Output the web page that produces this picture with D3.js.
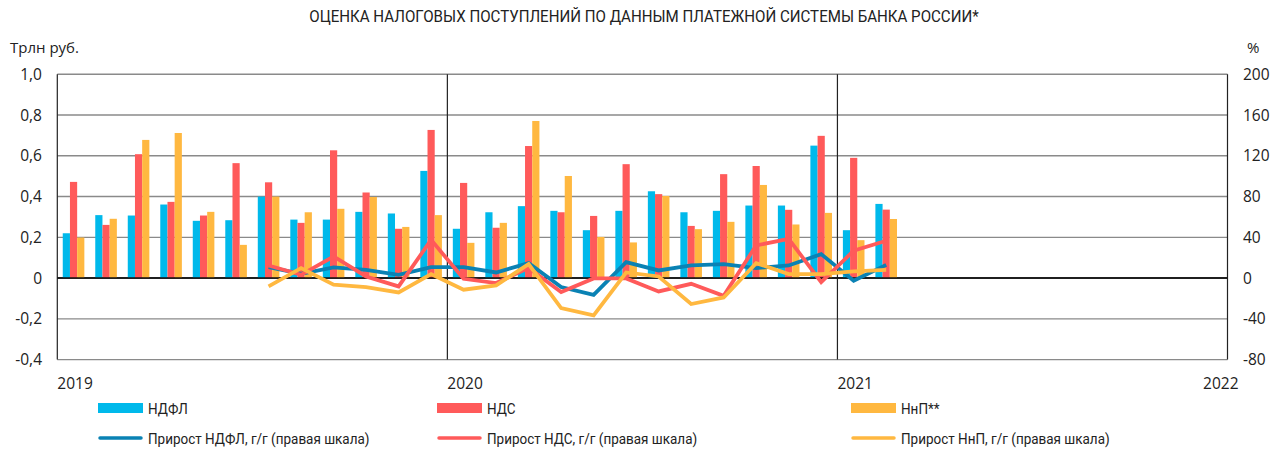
<!DOCTYPE html>
<html><head><meta charset="utf-8">
<script src="https://cdn.jsdelivr.net/npm/d3@7"></script>
<style>
body{margin:0;background:#fff;}
svg{display:block;font-family:Roboto, "Noto Sans", sans-serif;}
.ax{font-family:"Open Sans", "Noto Sans", sans-serif;}
</style></head><body>
<svg id="chart" width="1284" height="452"></svg>
<script>
const months = ["2019-01","2019-02","2019-03","2019-04","2019-05","2019-06","2019-07","2019-08","2019-09","2019-10","2019-11","2019-12",
"2020-01","2020-02","2020-03","2020-04","2020-05","2020-06","2020-07","2020-08","2020-09","2020-10","2020-11","2020-12",
"2021-01","2021-02"];
const ndfl = [0.22,0.309,0.307,0.361,0.281,0.284,0.40,0.287,0.287,0.325,0.317,0.526,
0.242,0.323,0.353,0.33,0.235,0.33,0.426,0.323,0.33,0.356,0.356,0.65,
0.235,0.364];
const nds = [0.472,0.261,0.608,0.374,0.307,0.564,0.47,0.271,0.627,0.42,0.242,0.727,
0.467,0.247,0.648,0.323,0.305,0.559,0.412,0.256,0.51,0.55,0.335,0.698,
0.59,0.336];
const nnp = [0.199,0.291,0.678,0.712,0.325,0.163,0.40,0.323,0.34,0.398,0.251,0.309,
0.173,0.271,0.771,0.501,0.202,0.175,0.403,0.24,0.276,0.457,0.263,0.32,
0.186,0.29];
const growthMonths = ["2019-07","2019-08","2019-09","2019-10","2019-11","2019-12",
"2020-01","2020-02","2020-03","2020-04","2020-05","2020-06","2020-07","2020-08","2020-09","2020-10","2020-11","2020-12",
"2021-01","2021-02"];
const ndflGrowth = [10.8,4.2,10.5,8.1,3.2,10.8,10.8,5.5,14.7,-8.8,-16.4,15.7,7.5,12.4,13.7,9.8,12.4,23.5,-2.6,13];
const ndsGrowth = [12.4,3.2,21.2,1.6,-8.2,37.5,-0.7,-4.9,10,-13.7,-0.3,-0.3,-13.1,-5.6,-17.4,32,38.5,-4,26.8,36.6];
const nnpGrowth = [-8.2,9.8,-6.5,-8.8,-14.1,3.9,-11.4,-7.2,13.7,-29.4,-36.6,5.5,1.6,-25.5,-19,14.7,3.9,3.9,6.5,8.1];
const yearLabels = ["2019","2020","2021","2022"];
const leftTicks = [1.0,0.8,0.6,0.4,0.2,0,-0.2,-0.4];
const rightTicks = [200,160,120,80,40,0,-40,-80];

const title = "ОЦЕНКА НАЛОГОВЫХ ПОСТУПЛЕНИЙ ПО ДАННЫМ ПЛАТЕЖНОЙ СИСТЕМЫ БАНКА РОССИИ*";
const colors = {ndfl:"#00B9EB", nds:"#FF5A5A", nnp:"#FFB840", ndflLine:"#0A82B4", ndsLine:"#FF5A5A", nnpLine:"#FFB840"};

const svg = d3.select("#chart");
const L = 57.3, R = 1227.5, T = 74.3, B = 359.6;

const monthIndex = m => { const [y, mo] = m.split("-").map(Number); return (y - 2019) * 12 + (mo - 1); };
const x = d3.scaleLinear().domain([0, 36]).range([L, R]);
const y = d3.scaleLinear().domain([-0.4, 1.0]).range([B, T]);
const y2 = d3.scaleLinear().domain([-80, 200]).range([B, T]);
const bw = 7.2;

// title (condensed look)
svg.append("text").attr("transform", "translate(644,22) scale(0.91,1)").attr("text-anchor", "middle")
  .attr("font-size", 16.6).attr("fill", "#222").text(title);

// gridlines
svg.append("g").selectAll("line").data(leftTicks).join("line")
  .attr("x1", L).attr("x2", R).attr("y1", d => y(d)).attr("y2", d => y(d))
  .attr("stroke", d => d === 0 ? "#111" : "#8a8a8a").attr("stroke-width", d => d === 0 ? 1.5 : 1.4);

// year boundaries
svg.append("g").selectAll("line").data([0, 12, 24, 36]).join("line")
  .attr("x1", d => x(d)).attr("x2", d => x(d)).attr("y1", T).attr("y2", B)
  .attr("stroke", "#222").attr("stroke-width", 1.2);

// left axis labels
svg.append("g").attr("class", "ax").selectAll("text").data(leftTicks).join("text")
  .attr("x", 42).attr("y", d => y(d) + 5.5).attr("text-anchor", "end")
  .attr("font-size", 15.5).attr("fill", "#222")
  .text(d => d === 0 ? "0" : d3.format(".1f")(d).replace(".", ",").replace("−", "-"));
svg.append("text").attr("class", "ax").attr("x", 10).attr("y", 53).attr("font-size", 15).attr("fill", "#222").text("Трлн руб.");

// right axis labels
svg.append("g").attr("class", "ax").selectAll("text").data(rightTicks).join("text")
  .attr("x", 1243).attr("y", d => y2(d) + 5.5).attr("text-anchor", "start")
  .attr("font-size", 15.5).attr("fill", "#222").text(d => String(d));
svg.append("text").attr("class", "ax").attr("x", 1247).attr("y", 53).attr("font-size", 15).attr("fill", "#222").text("%");

// year labels
svg.append("g").attr("class", "ax").selectAll("text").data(yearLabels).join("text")
  .attr("x", (d, i) => i < 3 ? x(i * 12) : x(i * 12) + 11)
  .attr("text-anchor", (d, i) => i < 3 ? "start" : "end")
  .attr("y", 389).attr("font-size", 15.5).attr("fill", "#222").text(d => d);

// bars
const series = [{v: ndfl, c: colors.ndfl, o: -1}, {v: nds, c: colors.nds, o: 0}, {v: nnp, c: colors.nnp, o: 1}];
const gb = svg.append("g");
series.forEach(s => {
  gb.append("g").selectAll("rect").data(months.map((m, i) => ({m, v: s.v[i]}))).join("rect")
    .attr("x", d => x(monthIndex(d.m) + 0.5) + s.o * bw - bw / 2)
    .attr("width", bw)
    .attr("y", d => y(Math.max(0, d.v)))
    .attr("height", d => Math.abs(y(d.v) - y(0)))
    .attr("fill", s.c);
});
svg.append("line").attr("x1", L).attr("x2", R).attr("y1", y(0)).attr("y2", y(0)).attr("stroke", "#111").attr("stroke-width", 1.5);

// lines
const line = d3.line().x(d => x(monthIndex(d.m) + 0.5)).y(d => y2(d.v));
const lines = [{v: ndflGrowth, c: colors.ndflLine}, {v: ndsGrowth, c: colors.ndsLine}, {v: nnpGrowth, c: colors.nnpLine}];
lines.forEach(s => {
  svg.append("path").datum(growthMonths.map((m, i) => ({m, v: s.v[i]})))
    .attr("d", line).attr("fill", "none").attr("stroke", s.c).attr("stroke-width", 3.8)
    .attr("stroke-linejoin", "miter");
});

// legend
const legend = [
  {t: "НДФЛ", c: colors.ndfl, type: "rect", x: 98, y: 408},
  {t: "НДС", c: colors.nds, type: "rect", x: 437, y: 408},
  {t: "НнП**", c: colors.nnp, type: "rect", x: 851, y: 408},
  {t: "Прирост НДФЛ, г/г (правая шкала)", c: colors.ndflLine, type: "line", x: 98, y: 438},
  {t: "Прирост НДС, г/г (правая шкала)", c: colors.ndsLine, type: "line", x: 437, y: 438},
  {t: "Прирост НнП, г/г (правая шкала)", c: colors.nnpLine, type: "line", x: 851, y: 438}
];
const lg = svg.append("g");
legend.forEach(d => {
  if (d.type === "rect") {
    lg.append("rect").attr("x", d.x).attr("y", d.y - 5).attr("width", 45).attr("height", 10).attr("fill", d.c);
  } else {
    lg.append("line").attr("x1", d.x + 2).attr("x2", d.x + 43).attr("y1", d.y).attr("y2", d.y)
      .attr("stroke", d.c).attr("stroke-width", 3.5).attr("stroke-linecap", "round");
  }
  lg.append("text").attr("transform", `translate(${d.x + 50},${d.y + 6}) scale(0.87,1)`)
    .attr("font-size", 15.5).attr("fill", "#222").text(d.t);
});
</script>
</body></html>
